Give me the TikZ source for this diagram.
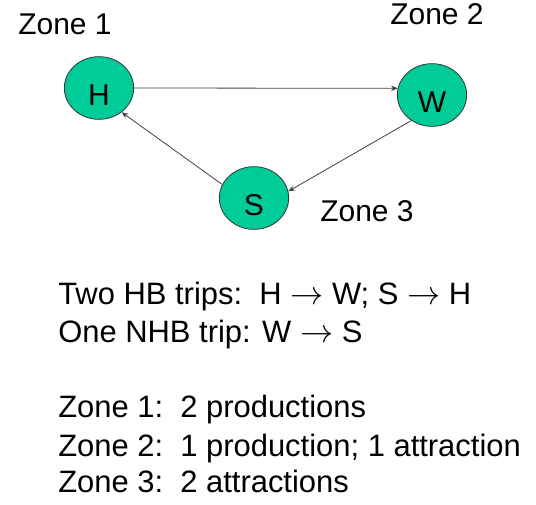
\documentclass[tikz,border=0pt]{standalone}
\usepackage{fontspec}
\setmainfont{Liberation Sans}
\usetikzlibrary{shapes.geometric,arrows.meta}

\definecolor{zonegreen}{HTML}{00CC99}

\tikzset{
    zone/.style={ellipse, draw=black!80, fill=zonegreen, line width=0.6pt,
        minimum width=52pt, minimum height=47pt, inner sep=0pt,
        text height=26pt, text depth=0pt},
    trip/.style={-{Stealth[length=5pt,width=4pt]}, line width=0.6pt, black!75},
    txt/.style={anchor=base west, inner sep=0pt},
    note/.style={txt, font=\fontsize{23.2}{28}\selectfont}
}

\newcommand{\tripto}{$\rightarrow$}

\begin{document}
\begin{tikzpicture}[x=0.75pt, y=-0.75pt, font=\fontsize{22.5}{28}\selectfont]
    \useasboundingbox (0,0) rectangle (536,505);

    \node [zone] (H) at (99,88) {H};
    \node [zone] (W) at (432,95) {W};
    \node [zone] (S) at (254,198) {S};

    \node [txt] (z1) at (18,35) {Zone 1};
    \node [txt] (z2) at (390,25) {Zone 2};
    \node [txt] (z3) at (320,222) {Zone 3};

    % trips
    \draw [trip] (H.0) -- (W.169); % H - W
    \draw [trip] (W.231) -- (S.11); % W - S
    \draw [trip] (S.157) -- (H.-47); % S - H

    % summary
    \node [note] (l1) at (58,305) {Two HB trips:\ \ H \tripto{} W; S \tripto{} H};
    \node [note] (l2) at (58,343) {One NHB trip: W \tripto{} S};
    \node [note] (l3) at (58,418) {Zone 1:\ \ 2 productions};
    \node [note] (l4) at (58,457) {Zone 2:\ \ 1 production; 1 attraction};
    \node [note] (l5) at (58,493) {Zone 3:\ \ 2 attractions};
\end{tikzpicture}
\end{document}
